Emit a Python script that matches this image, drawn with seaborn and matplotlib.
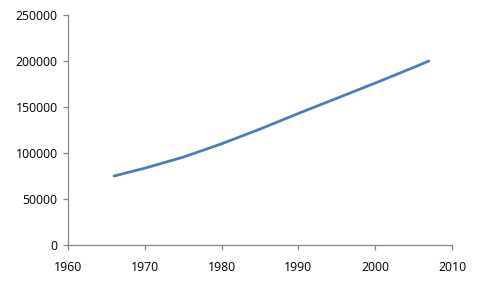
import matplotlib
matplotlib.use("Agg")
import matplotlib.pyplot as plt
import seaborn as sns
import pandas as pd

years = [1966, 1970, 1975, 1980, 1985, 1990, 1995, 2000, 2005, 2007]
values = [75000, 83500, 95500, 110000, 126000, 143000, 159500, 176000, 193000, 200000]
x_ticks = [1960, 1970, 1980, 1990, 2000, 2010]
y_ticks = [0, 50000, 100000, 150000, 200000, 250000]

sns.set_style("white")
plt.rcParams['font.family'] = ['Open Sans', 'DejaVu Sans']

df = pd.DataFrame({"year": years, "value": values})

fig = plt.figure(figsize=(4.82, 2.9), dpi=100)
ax = fig.add_axes([68/482, 45/290, (452-68)/482, (245-15)/290])
sns.lineplot(data=df, x="year", y="value", ax=ax, color="#4A7EBB", linewidth=2.0)

ax.set_xlim(1960, 2010)
ax.set_ylim(0, 250000)
ax.set_xticks(x_ticks)
ax.set_yticks(y_ticks)
ax.set_xticklabels([str(t) for t in x_ticks])
ax.set_yticklabels([str(t) for t in y_ticks])
ax.set_xlabel("")
ax.set_ylabel("")
for s in ["top", "right"]:
    ax.spines[s].set_visible(False)
for s in ["left", "bottom"]:
    ax.spines[s].set_color("#868686")
    ax.spines[s].set_linewidth(0.9)
ax.tick_params(axis="both", which="major", direction="out", length=3.5, width=0.9,
               color="#868686", labelsize=8.8, labelcolor="black",
               bottom=True, left=True)
ax.tick_params(axis="x", pad=8)
ax.tick_params(axis="y", pad=4)

fig.savefig("out.png", dpi=100)
